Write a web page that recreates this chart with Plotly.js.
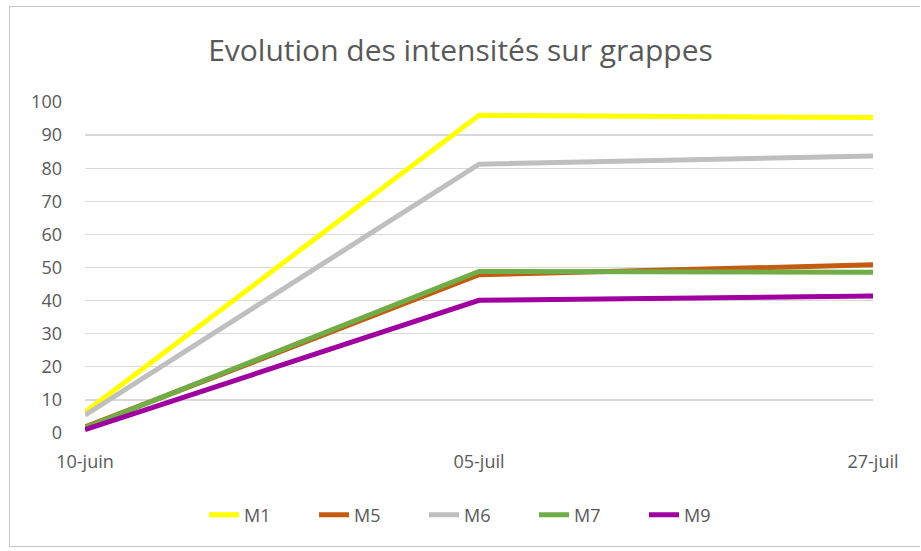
<!DOCTYPE html>
<html>
<head>
<meta charset="utf-8">
<script src="https://cdn.plot.ly/plotly-3.0.1.min.js"></script>
<style>
  html, body { margin: 0; padding: 0; background: #fff; }
  #chart { width: 921px; height: 551px; }
  #frame { position: absolute; left: 9px; top: 6px; width: 911px; height: 541px;
           border: 1px solid #c8c8c8; border-right: none; box-sizing: border-box; pointer-events: none; }
</style>
</head>
<body>
<div id="chart"></div>
<div id="frame"></div>
<script>
const dates = ["10-juin", "05-juil", "27-juil"];
const M1 = [6.3, 96, 95.3];
const M5 = [1.8, 47.8, 50.8];
const M6 = [5.4, 81.2, 83.7];
const M7 = [1.6, 48.8, 48.6];
const M9 = [1.0, 40.1, 41.4];

const seriesNames = ["M1", "M5", "M6", "M7", "M9"];
const seriesData = [M1, M5, M6, M7, M9];
const colors = ["#FFFF00", "#C55A11", "#BFBFBF", "#70AD47", "#A000A0"];

const font = '"Open Sans", Calibri, sans-serif';

const traces = seriesNames.map((n, i) => ({
  type: "scatter",
  mode: "lines",
  name: n,
  x: dates,
  y: seriesData[i],
  line: { color: colors[i], width: 5 },
  hoverinfo: "x+y+name"
}));

const layout = {
  width: 921,
  height: 551,
  margin: { l: 85, r: 48, t: 102, b: 118 },
  paper_bgcolor: "#ffffff",
  plot_bgcolor: "#ffffff",
  title: {
    text: "Evolution des intensités sur grappes",
    font: { family: font, size: 30, color: "#595959" },
    x: 0.5, xanchor: "center",
    y: 1 - 50 / 551, yanchor: "middle", yref: "container"
  },
  xaxis: {
    type: "category",
    range: [0, 2],
    showgrid: false,
    zeroline: false,
    showline: false,
    ticks: "",
    tickfont: { family: font, size: 18, color: "#595959" },
    ticklabelstandoff: 16
  },
  yaxis: {
    range: [0, 100],
    dtick: 10,
    showgrid: true,
    gridcolor: "#D9D9D9",
    gridwidth: 1.3,
    zeroline: false,
    showline: false,
    ticks: "",
    tickfont: { family: font, size: 18, color: "#595959" },
    ticklabelstandoff: 22
  },
  showlegend: true,
  legend: {
    orientation: "h",
    x: 0.5, xanchor: "center",
    y: (433 - 515) / 331, yanchor: "middle",
    font: { family: font, size: 18, color: "#595959" },
    entrywidth: 65,
    entrywidthmode: "pixels",
    tracegroupgap: 0
  }
};

Plotly.newPlot("chart", traces, layout, { displayModeBar: false, staticPlot: true });
</script>
</body>
</html>
